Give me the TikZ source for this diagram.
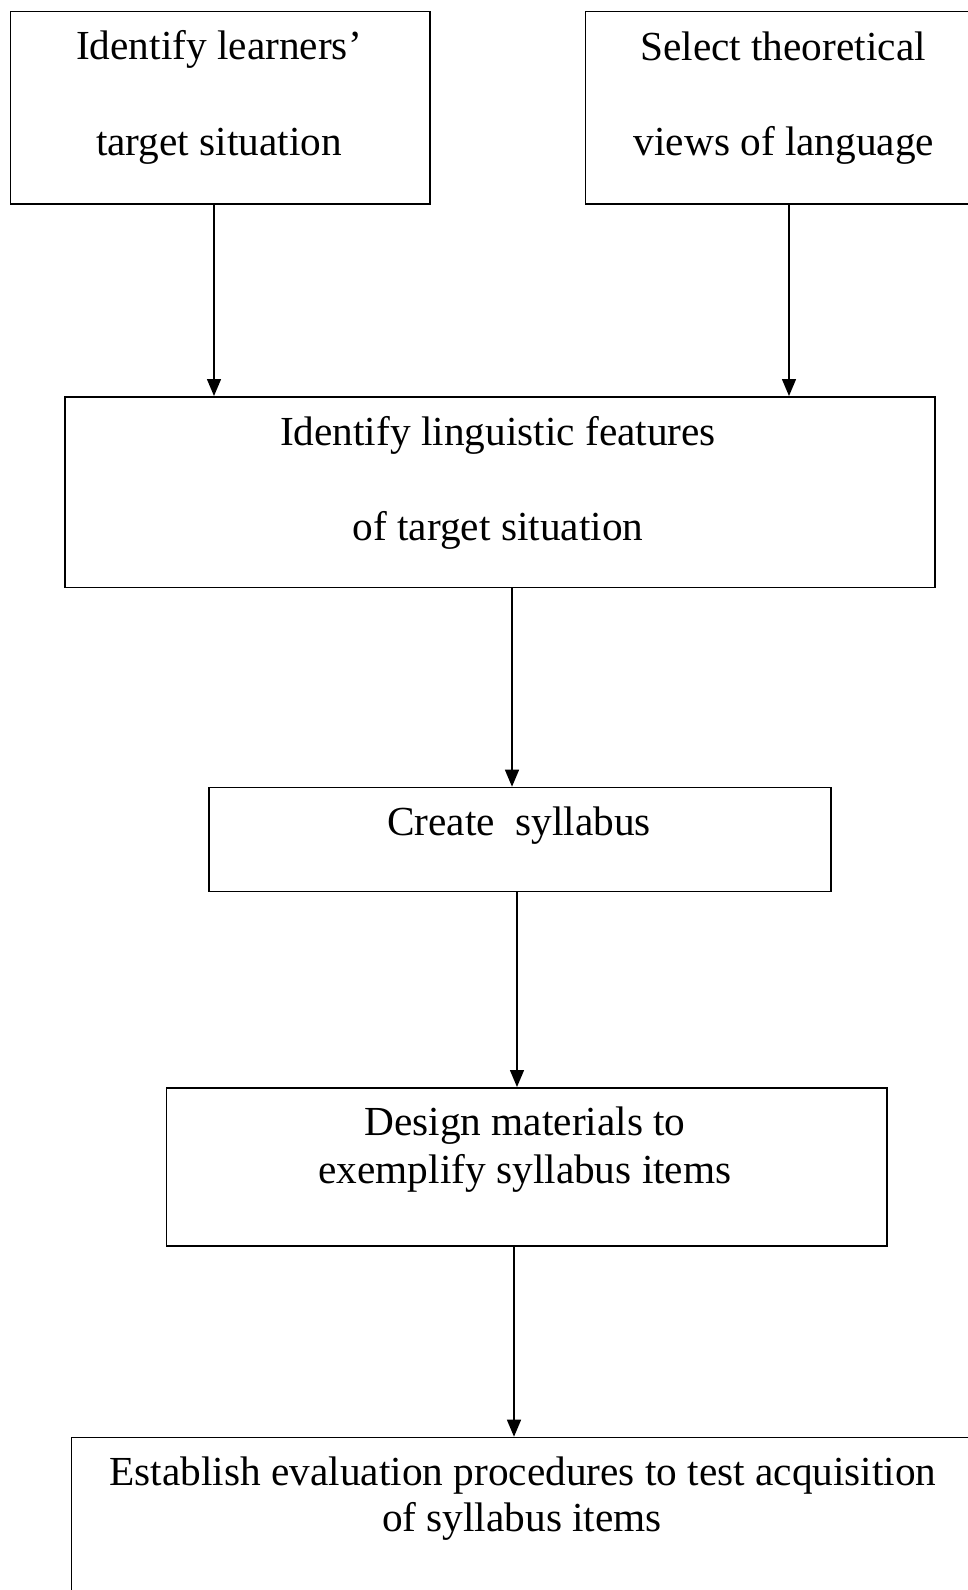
\documentclass[tikz,border=0pt]{standalone}
\usepackage{fontspec}
\setmainfont{Liberation Serif}
\usetikzlibrary{arrows.meta}
\begin{document}
\begin{tikzpicture}[x=1pt,y=-1pt,
  box/.style={draw,line width=1.5pt,inner sep=0pt,anchor=north west},
  txt/.style={anchor=base,inner sep=0pt,font=\fontsize{41.3}{49}\selectfont},
  arr/.style={line width=1.4pt,-{Triangle[length=17pt,width=14pt]}}]
\useasboundingbox (0,0) rectangle (968,1590);
\clip (0,0) rectangle (968,1590);
\fill[white] (0,0) rectangle (968,1590);
% boxes
\node[box,minimum width=419.5pt,minimum height=192.3pt] (b1) at (9.5,10.7) {};
\node[box,minimum width=420pt,minimum height=192.3pt] (b2) at (584.5,10.7) {};
\node[box,minimum width=870pt,minimum height=190.7pt] (b3) at (64,396) {};
\node[box,minimum width=622pt,minimum height=104pt] (b4) at (208,786.7) {};
\node[box,minimum width=720.4pt,minimum height=158pt] (b5) at (165.6,1087) {};
\node[box,minimum width=940pt,minimum height=200pt] (b6) at (70.5,1436.7) {};
% texts
\node[txt] (t1a) at (219,59.3) {Identify learners’};
\node[txt] (t1b) at (219,155) {target situation};
\node[txt] (t2a) at (783,60) {Select theoretical};
\node[txt] (t2b) at (784,155) {views of language};
\node[txt] (t3a) at (498,445) {Identify linguistic features};
\node[txt] (t3b) at (498,540) {of target situation};
\node[txt] (t4) at (519,835) {Create\ \ syllabus};
\node[txt] (t5a) at (525,1135.7) {Design materials to};
\node[txt] (t5b) at (525,1183) {exemplify syllabus items};
\node[txt] (t6a) at (523,1485) {Establish evaluation procedures to test acquisition};
\node[txt] (t6b) at (522,1531.7) {of syllabus items};
% connectors
\draw[arr] (214,0 |- b1.south) -- (214,0 |- b3.north);
\draw[arr] (789,0 |- b2.south) -- (789,0 |- b3.north);
\draw[arr] (512,0 |- b3.south) -- (512,0 |- b4.north);
\draw[arr] (517,0 |- b4.south) -- (517,0 |- b5.north);
\draw[arr] (514,0 |- b5.south) -- (514,0 |- b6.north);
\end{tikzpicture}
\end{document}
